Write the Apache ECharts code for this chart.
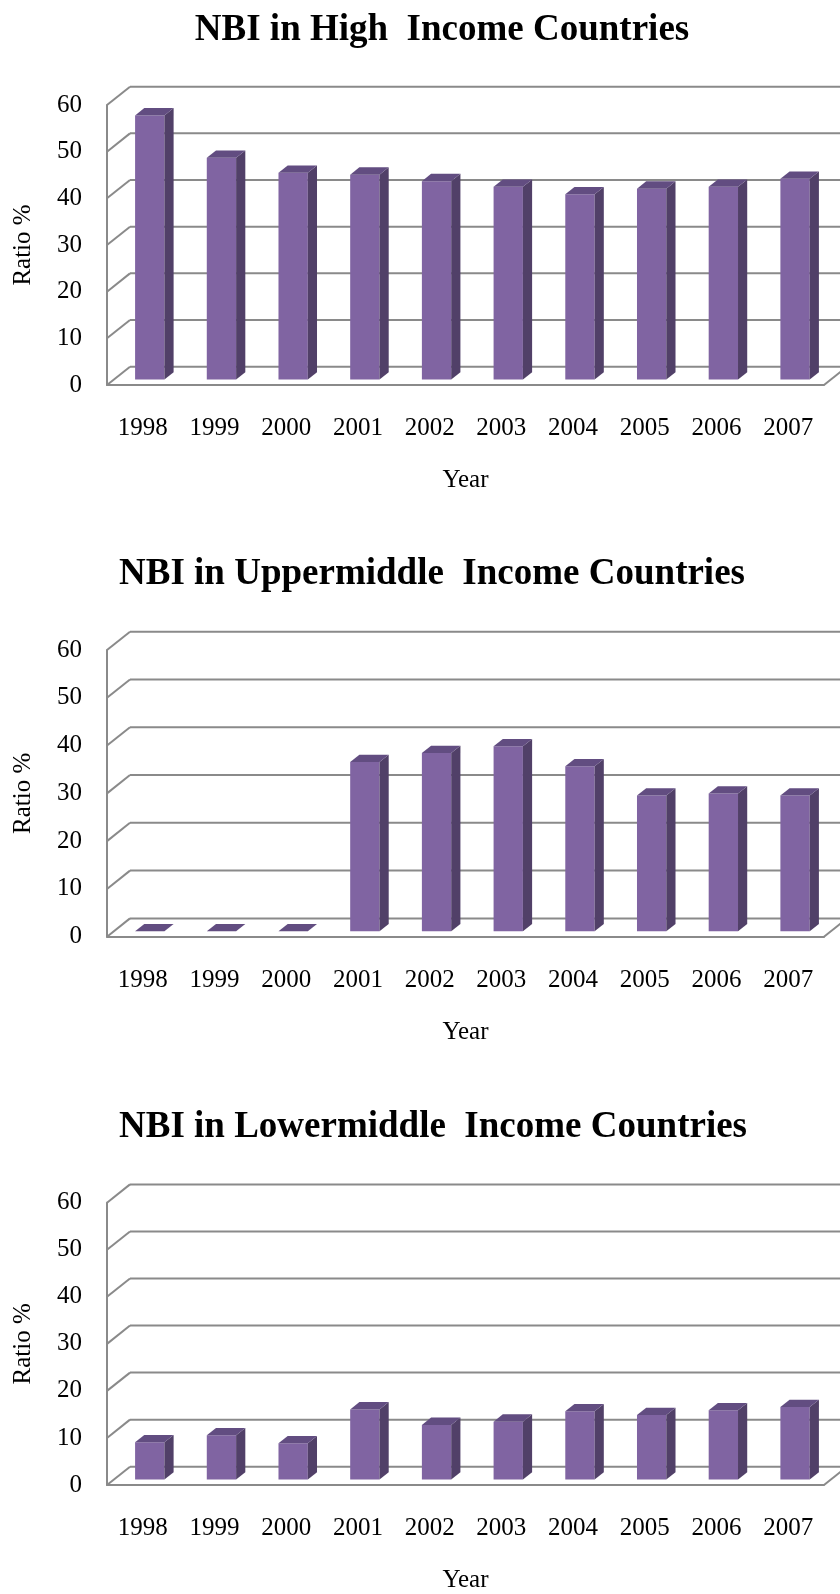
<!DOCTYPE html>
<html>
<head>
<meta charset="utf-8">
<script src="https://cdn.jsdelivr.net/npm/echarts@6/dist/echarts.min.js"></script>
<style>
  html, body { margin: 0; padding: 0; background: #ffffff; }
  #chart { width: 840px; height: 1594px; }
</style>
</head>
<body>
<div id="chart"></div>
<script>
// Categories and values (ratio, %)
const years = ['1998', '1999', '2000', '2001', '2002', '2003', '2004', '2005', '2006', '2007'];
const highIncome  = [56.6, 47.5, 44.3, 43.9, 42.5, 41.3, 39.7, 40.9, 41.3, 43.0];
const upperMiddle = [0, 0, 0, 35.4, 37.3, 38.7, 34.5, 28.4, 28.8, 28.4];
const lowerMiddle = [7.9, 9.4, 7.7, 14.9, 11.6, 12.3, 14.5, 13.7, 14.7, 15.4];
const yTicks = [0, 10, 20, 30, 40, 50, 60];
const panelTitles = [
  'NBI in High  Income Countries',
  'NBI in Uppermiddle  Income Countries',
  'NBI in Lowermiddle  Income Countries'
];

// Oblique projection of the depth axis
const DX = 23, DY = 18.3;
const BAR_FRONT = 0.3, BAR_BACK = 0.7, BAR_WIDTH = 0.409;
const GRID_COLOR = '#8a8a8a';
const FONT = '"Liberation Serif", "Times New Roman", serif';

const panels = [
  { values: highIncome,  top: 105,    height: 280,   titleTop: 12,   titleX: 442 },
  { values: upperMiddle, top: 650,    height: 286.7, titleTop: 556,  titleX: 432 },
  { values: lowerMiddle, top: 1202.7, height: 286.6, titleTop: 1109, titleX: 433 }
];

// Left wall diagonals, back-wall gridlines and the floor's right edge
function renderFrame(params, api) {
  const v = api.value(1);
  const cs = params.coordSys;
  const y = api.coord([0, v])[1];
  const xl = cs.x, xr = cs.x + cs.width;
  const style = { stroke: GRID_COLOR, lineWidth: 2 };
  const children = [
    { type: 'line', shape: { x1: xl, y1: y, x2: xl + DX, y2: y - DY }, style },
    { type: 'line', shape: { x1: xl + DX, y1: y - DY, x2: xr + DX, y2: y - DY }, style }
  ];
  if (v === 0) {
    children.push({ type: 'line', shape: { x1: xr, y1: y, x2: xr + DX, y2: y - DY }, style });
  }
  return { type: 'group', children };
}

// 3D column: front face, right side face and top face
function renderBar(params, api) {
  const i = api.value(0);
  const v = api.value(1);
  const base = api.coord([i, 0]);
  const tip = api.coord([i, v]);
  const band = api.size([1, 0])[0];
  const w = band * BAR_WIDTH;
  const cx = base[0] + BAR_FRONT * DX;
  const xl = cx - w / 2, xr = cx + w / 2;
  const yb = base[1] - BAR_FRONT * DY;
  const yt = tip[1] - BAR_FRONT * DY;
  const ddx = (BAR_BACK - BAR_FRONT) * DX;
  const ddy = (BAR_BACK - BAR_FRONT) * DY;
  return {
    type: 'group',
    children: [
      { type: 'rect', shape: { x: xl, y: yt, width: w, height: yb - yt },
        style: { fill: '#8064A2' } },
      { type: 'polygon', shape: { points: [[xr, yb], [xr, yt], [xr + ddx, yt - ddy], [xr + ddx, yb - ddy]] },
        style: { fill: '#514068' } },
      { type: 'polygon', shape: { points: [[xl, yt], [xr, yt], [xr + ddx, yt - ddy], [xl + ddx, yt - ddy]] },
        style: { fill: '#624D81' } }
    ]
  };
}

const option = {
  animation: false,
  backgroundColor: '#ffffff',
  title: panels.map((p, k) => ({
    text: panelTitles[k],
    left: p.titleX,
    top: p.titleTop,
    textAlign: 'center',
    padding: 0,
    textStyle: { fontFamily: FONT, fontWeight: 'bold', fontSize: 37, color: '#000000', lineHeight: 37 }
  })),
  grid: panels.map(p => ({ left: 107, right: 16, top: p.top, height: p.height, containLabel: false })),
  xAxis: panels.map((p, k) => ({
    type: 'category',
    gridIndex: k,
    data: years,
    boundaryGap: true,
    axisLine: { show: true, lineStyle: { color: GRID_COLOR, width: 2 } },
    axisTick: { show: false },
    splitLine: { show: false },
    axisLabel: { interval: 0, margin: 31, fontFamily: FONT, fontSize: 25, color: '#000000' },
    name: 'Year',
    nameLocation: 'middle',
    nameGap: 83,
    nameTextStyle: { fontFamily: FONT, fontSize: 25, color: '#000000' }
  })),
  yAxis: panels.map((p, k) => ({
    type: 'value',
    gridIndex: k,
    min: 0,
    max: 60,
    interval: 10,
    axisLine: { show: true, lineStyle: { color: GRID_COLOR, width: 2 } },
    axisTick: { show: false },
    splitLine: { show: false },
    axisLabel: { margin: 25, fontFamily: FONT, fontSize: 25, color: '#000000' },
    name: 'Ratio %',
    nameLocation: 'middle',
    nameRotate: 90,
    nameGap: 71,
    nameTextStyle: { fontFamily: FONT, fontSize: 25, color: '#000000' }
  })),
  series: [].concat(
    panels.map((p, k) => ({
      type: 'custom',
      xAxisIndex: k,
      yAxisIndex: k,
      z: 1,
      silent: true,
      clip: false,
      renderItem: renderFrame,
      encode: { x: 0, y: 1 },
      data: yTicks.map(t => [0, t])
    })),
    panels.map((p, k) => ({
      type: 'custom',
      xAxisIndex: k,
      yAxisIndex: k,
      z: 3,
      clip: false,
      renderItem: renderBar,
      encode: { x: 0, y: 1 },
      data: p.values.map((v, i) => [i, v])
    }))
  )
};

const chart = echarts.init(document.getElementById('chart'), null, { renderer: 'canvas' });
chart.setOption(option);
</script>
</body>
</html>
